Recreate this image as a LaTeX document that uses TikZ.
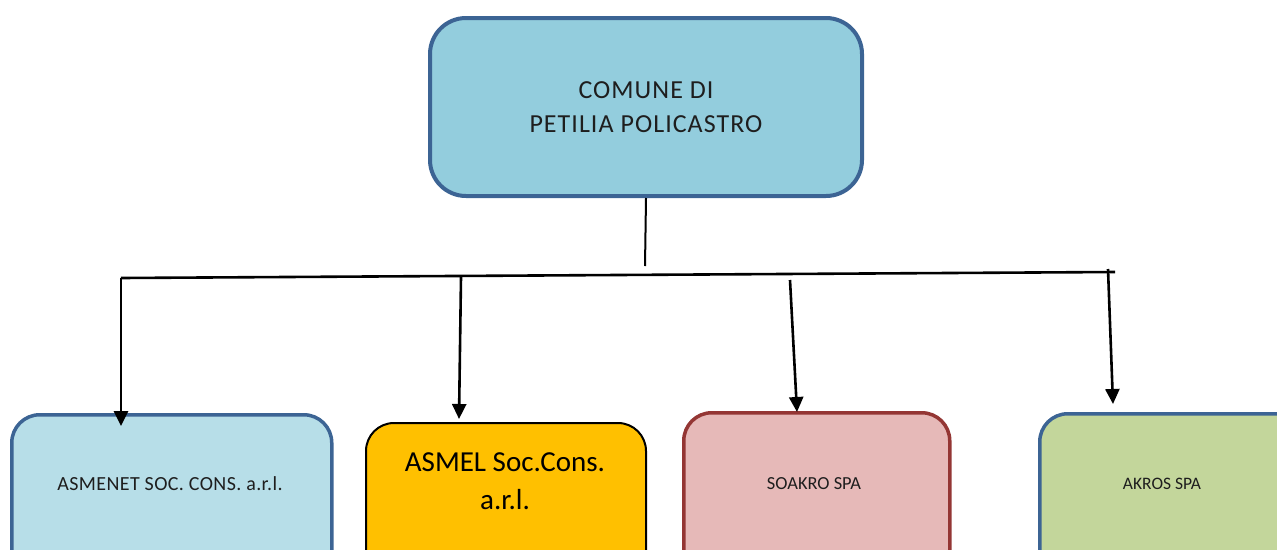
\documentclass[tikz,border=0pt]{standalone}
\usepackage{fontspec}
\setmainfont{Carlito}
\usetikzlibrary{arrows.meta}
\definecolor{topfill}{HTML}{93CDDD}
\definecolor{blueb}{HTML}{3C6494}
\definecolor{f1}{HTML}{B7DEE8}
\definecolor{f2}{HTML}{FFC000}
\definecolor{f3}{HTML}{E6B9B8}
\definecolor{redb}{HTML}{943634}
\definecolor{f4}{HTML}{C3D69B}
\definecolor{txt}{HTML}{1E1E1E}
\begin{document}
\begin{tikzpicture}[x=1pt,y=-1pt,
  box/.style={rectangle, rounded corners=28pt, draw, anchor=north west, inner sep=0pt},
  lbl/.style={align=center, text=txt, inner sep=0pt},
  conn/.style={line width=2.6pt, black},
  arr/.style={conn, -{Triangle[length=15pt,width=14pt]}}]
\useasboundingbox (0,0) rectangle (1277,549);
% top box
\node[box, fill=topfill, draw=blueb, line width=4pt, minimum width=432pt, minimum height=178pt,
      rounded corners=36pt, text=txt, align=center,
      font=\fontsize{26}{34}\selectfont\addfontfeature{LetterSpace=4}] (comune) at (428,16)
      {COMUNE DI\\PETILIA POLICASTRO};
% bottom boxes
\node[box, fill=f1, draw=blueb, line width=3.5pt, minimum width=320pt, minimum height=170pt] (asmenet) at (10,413) {};
\node[box, fill=f2, draw=black, line width=2pt, minimum width=280pt, minimum height=170pt] (asmel) at (365,422) {};
\node[box, fill=f3, draw=redb, line width=3.5pt, minimum width=266pt, minimum height=170pt] (soakro) at (682,411) {};
\node[box, fill=f4, draw=blueb, line width=3.5pt, minimum width=290pt, minimum height=170pt] (akros) at (1038,412) {};
% labels
\node[lbl, font=\fontsize{20}{22}\selectfont\addfontfeature{LetterSpace=2}] (asmenett) at (170,484) {ASMENET SOC. CONS. a.r.l.};
\node[lbl, font=\fontsize{29}{38}\selectfont, text=black] (asmelt) at (505,481) {ASMEL Soc.Cons.\\a.r.l.};
\node[lbl, font=\fontsize{18.4}{20}\selectfont] (soakrot) at (814,484) {SOAKRO SPA};
\node[lbl, font=\fontsize{17.5}{20}\selectfont] (akrost) at (1162,484) {AKROS SPA};
% connectors
\coordinate (stem) at (645,266);
\coordinate (busL) at (121,278);
\coordinate (busR) at (1115,272);
\coordinate (s2) at (461,277);
\coordinate (s3) at (790,280);
\coordinate (s4) at (1108,269);
\coordinate (t1) at (121,426);
\coordinate (t2) at (459,419);
\coordinate (t3) at (797,412);
\coordinate (t4) at (1113,404);
\draw[conn, line width=2pt] (comune.south) -- (stem);
\draw[conn] (busL) -- (busR);
\draw[arr] (busL) -- (t1);
\draw[arr] (s2) -- (t2);
\draw[arr] (s3) -- (t3);
\draw[arr] (s4) -- (t4);
\end{tikzpicture}
\end{document}
